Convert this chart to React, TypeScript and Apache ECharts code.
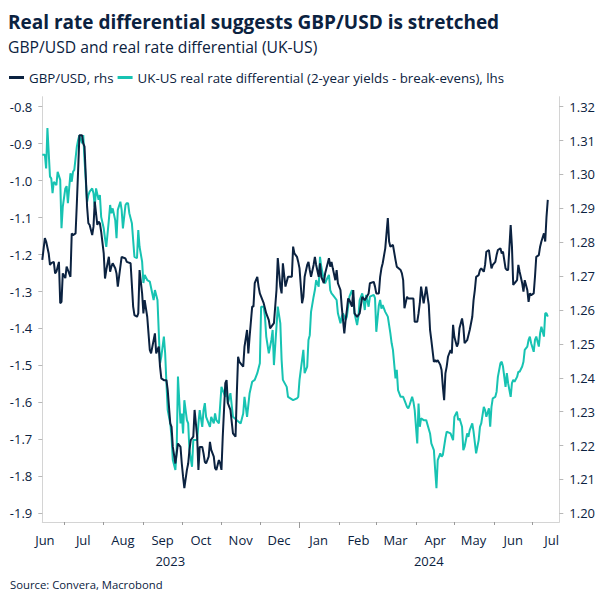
import React, { useEffect, useRef } from "react";
import * as echarts from "echarts";

const FONT = "'Open Sans', 'Noto Sans', sans-serif";
const NAVY = "#0b2240";
const TEAL = "#17c3b2";
const AXIS_GREY = "#d4d4d4";

const TITLE = "Real rate differential suggests GBP/USD is stretched";
const SUBTITLE = "GBP/USD and real rate differential (UK-US)";
const SOURCE = "Source: Convera, Macrobond";
const GBP_NAME = "GBP/USD, rhs";
const DIFF_NAME = "UK-US real rate differential (2-year yields - break-evens), lhs";

const AXIS_START = "2023-06-14";
const AXIS_END = "2024-07-22";
const MONTHS = ["Jan","Feb","Mar","Apr","May","Jun","Jul","Aug","Sep","Oct","Nov","Dec"];

const leftTicks = { min: -1.9, max: -0.8, interval: 0.1 };
const rightTicks = { min: 1.2, max: 1.32, interval: 0.01 };

// UK-US real rate differential (lhs)
const diffDates = [
"2023-06-14","2023-06-16","2023-06-17","2023-06-18","2023-06-20","2023-06-21","2023-06-22","2023-06-23","2023-06-25","2023-06-26","2023-06-28","2023-06-29","2023-06-30",
"2023-07-02","2023-07-03","2023-07-04","2023-07-06","2023-07-07","2023-07-08","2023-07-09","2023-07-11","2023-07-12","2023-07-13","2023-07-15","2023-07-16","2023-07-17","2023-07-19","2023-07-20","2023-07-21","2023-07-23","2023-07-24","2023-07-25","2023-07-26","2023-07-28","2023-07-29","2023-07-30",
"2023-08-01","2023-08-02","2023-08-03","2023-08-05","2023-08-06","2023-08-07","2023-08-08","2023-08-10","2023-08-11","2023-08-12","2023-08-14","2023-08-15","2023-08-16","2023-08-18","2023-08-19","2023-08-20","2023-08-21","2023-08-23","2023-08-24","2023-08-25","2023-08-27","2023-08-28","2023-08-29","2023-08-31",
"2023-09-01","2023-09-02","2023-09-04","2023-09-06","2023-09-09","2023-09-10","2023-09-12","2023-09-14","2023-09-15","2023-09-17","2023-09-18","2023-09-19","2023-09-20","2023-09-22","2023-09-23","2023-09-24","2023-09-26","2023-09-27","2023-09-28","2023-09-30",
"2023-10-01","2023-10-02","2023-10-03","2023-10-05","2023-10-06","2023-10-07","2023-10-09","2023-10-10","2023-10-13","2023-10-14","2023-10-15","2023-10-17","2023-10-18","2023-10-19","2023-10-20","2023-10-23","2023-10-24","2023-10-26","2023-10-27","2023-10-28","2023-10-30",
"2023-11-01","2023-11-04","2023-11-05","2023-11-06","2023-11-08","2023-11-10","2023-11-13","2023-11-16","2023-11-18","2023-11-19","2023-11-21","2023-11-23","2023-11-25","2023-11-27","2023-11-29",
"2023-12-01","2023-12-02","2023-12-04","2023-12-05","2023-12-06","2023-12-08","2023-12-10","2023-12-11","2023-12-12","2023-12-14","2023-12-15","2023-12-17","2023-12-18","2023-12-19","2023-12-22","2023-12-23","2023-12-27","2023-12-30","2023-12-31",
"2024-01-01","2024-01-03","2024-01-04","2024-01-05","2024-01-07","2024-01-08","2024-01-09","2024-01-10","2024-01-12","2024-01-13","2024-01-14","2024-01-16","2024-01-17","2024-01-18","2024-01-20","2024-01-21","2024-01-22","2024-01-24","2024-01-25","2024-01-26","2024-01-27","2024-01-30","2024-01-31",
"2024-02-02","2024-02-03","2024-02-04","2024-02-06","2024-02-07","2024-02-09","2024-02-11","2024-02-12","2024-02-13","2024-02-15","2024-02-16","2024-02-17","2024-02-19","2024-02-20","2024-02-21","2024-02-22","2024-02-24","2024-02-25","2024-02-28","2024-02-29",
"2024-03-01","2024-03-03","2024-03-04","2024-03-05","2024-03-06","2024-03-08","2024-03-10","2024-03-12","2024-03-13","2024-03-14","2024-03-16","2024-03-17","2024-03-18","2024-03-20","2024-03-22","2024-03-23","2024-03-25","2024-03-26","2024-03-27","2024-03-29","2024-03-30","2024-03-31",
"2024-04-02","2024-04-03","2024-04-04","2024-04-05","2024-04-07","2024-04-09","2024-04-12","2024-04-13","2024-04-15","2024-04-16","2024-04-17","2024-04-18","2024-04-20","2024-04-21","2024-04-22","2024-04-24","2024-04-25","2024-04-28","2024-04-30",
"2024-05-01","2024-05-03","2024-05-04","2024-05-05","2024-05-07","2024-05-08","2024-05-09","2024-05-11","2024-05-12","2024-05-13","2024-05-15","2024-05-16","2024-05-18","2024-05-20","2024-05-21","2024-05-22","2024-05-24","2024-05-25","2024-05-26","2024-05-28","2024-05-29","2024-05-30","2024-05-31",
"2024-06-02","2024-06-03","2024-06-04","2024-06-06","2024-06-07","2024-06-08","2024-06-10","2024-06-11","2024-06-12","2024-06-14","2024-06-15","2024-06-16","2024-06-17","2024-06-19","2024-06-20","2024-06-21","2024-06-23","2024-06-24","2024-06-25","2024-06-27","2024-06-28","2024-06-29","2024-06-30",
"2024-07-02","2024-07-03","2024-07-04","2024-07-06","2024-07-07","2024-07-08","2024-07-10","2024-07-11","2024-07-12","2024-07-13"
];
const diffValues = [
-0.93,-0.93,-0.967,-0.858,-0.989,-0.994,-1.034,-1.003,-1.012,-0.976,-0.998,-1.129,-1.071,
-1.021,-1.015,-1.061,-0.98,-1.003,-0.976,-0.971,-0.908,-0.89,-0.877,-0.899,-0.877,-0.944,-1.057,-1.039,-1.03,-1.021,-1.034,-1.071,-1.021,-1.052,-1.039,-1.098,
-1.129,-1.156,-1.179,-1.107,-1.066,-1.088,-1.075,-1.107,-1.156,-1.079,-1.057,-1.079,-1.129,-1.066,-1.061,-1.061,-1.088,-1.115,-1.161,-1.206,-1.21,-1.134,-1.179,-1.219,
-1.277,-1.255,-1.269,-1.273,-1.323,-1.296,-1.323,-1.494,-1.476,-1.422,-1.467,-1.548,-1.621,-1.657,-1.693,-1.756,-1.783,-1.729,-1.53,-1.657,
-1.63,-1.684,-1.594,-1.648,-1.657,-1.729,-1.774,-1.702,-1.702,-1.657,-1.621,-1.666,-1.621,-1.602,-1.639,-1.666,-1.639,-1.657,-1.63,-1.648,-1.657,
-1.558,-1.585,-1.558,-1.603,-1.575,-1.639,-1.648,-1.657,-1.63,-1.585,-1.639,-1.575,-1.544,-1.539,-1.521,
-1.494,-1.341,-1.341,-1.368,-1.422,-1.467,-1.431,-1.404,-1.499,-1.395,-1.341,-1.386,-1.485,-1.539,-1.558,-1.585,-1.594,-1.589,-1.585,
-1.539,-1.485,-1.458,-1.521,-1.503,-1.431,-1.418,-1.355,-1.314,-1.296,-1.269,-1.287,-1.206,-1.233,-1.269,-1.278,-1.269,-1.255,-1.296,-1.305,-1.309,-1.323,-1.359,
-1.386,-1.368,-1.359,-1.377,-1.368,-1.314,-1.296,-1.318,-1.359,-1.391,-1.368,-1.323,-1.305,-1.323,-1.35,-1.309,-1.341,-1.314,-1.309,-1.318,
-1.409,-1.337,-1.323,-1.346,-1.337,-1.355,-1.368,-1.413,-1.44,-1.458,-1.535,-1.512,-1.567,-1.585,-1.585,-1.594,-1.612,-1.616,-1.607,-1.585,-1.598,-1.621,
-1.711,-1.603,-1.666,-1.643,-1.648,-1.648,-1.684,-1.711,-1.729,-1.783,-1.832,-1.756,-1.738,-1.747,-1.742,-1.697,-1.679,-1.684,-1.702,
-1.639,-1.625,-1.648,-1.643,-1.666,-1.729,-1.72,-1.684,-1.693,-1.675,-1.657,-1.679,-1.738,-1.702,-1.666,-1.657,-1.612,-1.621,-1.639,-1.616,-1.666,-1.612,-1.589,
-1.585,-1.571,-1.531,-1.494,-1.49,-1.503,-1.558,-1.521,-1.548,-1.585,-1.548,-1.539,-1.544,-1.531,-1.517,-1.517,-1.503,-1.49,-1.458,-1.449,-1.431,-1.422,-1.44,
-1.463,-1.431,-1.422,-1.449,-1.413,-1.395,-1.422,-1.359,-1.359,-1.368
];

// GBP/USD (rhs)
const gbpDates = [
"2023-06-14","2023-06-16","2023-06-17","2023-06-19","2023-06-20","2023-06-21","2023-06-23","2023-06-24","2023-06-25","2023-06-27","2023-06-28","2023-06-29","2023-06-30",
"2023-07-02","2023-07-03","2023-07-04","2023-07-06","2023-07-07","2023-07-08","2023-07-10","2023-07-11","2023-07-12","2023-07-13","2023-07-15","2023-07-16","2023-07-17","2023-07-19","2023-07-20","2023-07-21","2023-07-23","2023-07-24","2023-07-25","2023-07-27","2023-07-28","2023-07-29","2023-07-30",
"2023-08-01","2023-08-02","2023-08-03","2023-08-05","2023-08-06","2023-08-07","2023-08-08","2023-08-10","2023-08-11","2023-08-12","2023-08-14","2023-08-15","2023-08-18","2023-08-19","2023-08-22","2023-08-24","2023-08-25","2023-08-27","2023-08-28","2023-08-29","2023-08-31",
"2023-09-01","2023-09-02","2023-09-04","2023-09-05","2023-09-06","2023-09-07","2023-09-10","2023-09-11","2023-09-13","2023-09-14","2023-09-15","2023-09-17","2023-09-19","2023-09-20","2023-09-22","2023-09-23","2023-09-24","2023-09-26","2023-09-27","2023-09-28","2023-09-30",
"2023-10-01","2023-10-02","2023-10-03","2023-10-05","2023-10-06","2023-10-07","2023-10-08","2023-10-10","2023-10-11","2023-10-13","2023-10-14","2023-10-15","2023-10-17","2023-10-18","2023-10-19","2023-10-20","2023-10-22","2023-10-23","2023-10-24","2023-10-26","2023-10-27","2023-10-28","2023-10-30","2023-10-31",
"2023-11-01","2023-11-02","2023-11-04","2023-11-05","2023-11-06","2023-11-08","2023-11-10","2023-11-12","2023-11-13","2023-11-14","2023-11-15","2023-11-18","2023-11-19","2023-11-21","2023-11-22","2023-11-23","2023-11-25","2023-11-26","2023-11-27","2023-11-29","2023-11-30",
"2023-12-01","2023-12-04","2023-12-06","2023-12-08","2023-12-09","2023-12-12","2023-12-13","2023-12-14","2023-12-15","2023-12-17","2023-12-18","2023-12-19","2023-12-21","2023-12-23","2023-12-26","2023-12-27","2023-12-28","2023-12-30","2023-12-31",
"2024-01-01","2024-01-03","2024-01-04","2024-01-05","2024-01-07","2024-01-08","2024-01-09","2024-01-10","2024-01-12","2024-01-13","2024-01-14","2024-01-16","2024-01-17","2024-01-18","2024-01-20","2024-01-21","2024-01-24","2024-01-25","2024-01-26","2024-01-27","2024-01-29","2024-01-30","2024-01-31",
"2024-02-02","2024-02-03","2024-02-04","2024-02-05","2024-02-06","2024-02-07","2024-02-08","2024-02-09","2024-02-11","2024-02-12","2024-02-13","2024-02-15","2024-02-17","2024-02-19","2024-02-21","2024-02-24","2024-02-25","2024-02-28","2024-02-29",
"2024-03-01","2024-03-03","2024-03-04","2024-03-05","2024-03-06","2024-03-08","2024-03-10","2024-03-11","2024-03-12","2024-03-14","2024-03-16","2024-03-17","2024-03-20","2024-03-21","2024-03-22","2024-03-23","2024-03-25","2024-03-26","2024-03-29","2024-03-30","2024-03-31",
"2024-04-02","2024-04-03","2024-04-04","2024-04-05","2024-04-07","2024-04-08","2024-04-09","2024-04-11","2024-04-12","2024-04-13","2024-04-15","2024-04-16","2024-04-17","2024-04-18","2024-04-20","2024-04-21","2024-04-22","2024-04-23","2024-04-24","2024-04-25","2024-04-26","2024-04-28","2024-04-29","2024-04-30",
"2024-05-01","2024-05-03","2024-05-04","2024-05-05","2024-05-07","2024-05-08","2024-05-09","2024-05-11","2024-05-13","2024-05-15","2024-05-16","2024-05-17","2024-05-18","2024-05-20","2024-05-21","2024-05-22","2024-05-24","2024-05-25","2024-05-26","2024-05-28","2024-05-29","2024-05-30","2024-05-31",
"2024-06-02","2024-06-03","2024-06-04","2024-06-06","2024-06-07","2024-06-08","2024-06-10","2024-06-11","2024-06-12","2024-06-14","2024-06-15","2024-06-16","2024-06-17","2024-06-19","2024-06-20","2024-06-21","2024-06-23","2024-06-24","2024-06-25","2024-06-27","2024-06-28","2024-06-29","2024-06-30",
"2024-07-02","2024-07-03","2024-07-04","2024-07-06","2024-07-07","2024-07-08","2024-07-10","2024-07-11","2024-07-12","2024-07-13"
];
const gbpValues = [
1.2748,1.2812,1.2802,1.2767,1.2733,1.2738,1.2742,1.2708,1.2713,1.2742,1.262,1.2624,1.2708,
1.2694,1.2728,1.2718,1.2698,1.2826,1.2821,1.2826,1.2915,1.3013,1.3116,1.3116,1.3092,1.3082,1.2905,1.2856,1.2851,1.2821,1.2846,1.292,1.2851,1.2861,1.2856,1.2831,
1.2767,1.2693,1.2718,1.2757,1.2713,1.2728,1.2738,1.2723,1.2708,1.2669,1.2728,1.2757,1.2752,1.2742,1.2738,1.261,1.2585,1.258,1.259,1.2718,1.2649,
1.259,1.2629,1.258,1.2531,1.2482,1.2472,1.2531,1.2472,1.2492,1.2433,1.2398,1.2393,1.2393,1.2364,1.2265,1.2255,1.2196,1.2147,1.2177,1.2206,1.2196,
1.2147,1.2108,1.2074,1.2128,1.2147,1.2187,1.2216,1.2226,1.2305,1.2226,1.2128,1.2196,1.2196,1.2177,1.2152,1.2147,1.2167,1.2211,1.2187,1.2167,1.2133,1.2128,1.2157,1.2147,
1.2128,1.2226,1.2384,1.2393,1.2325,1.2305,1.2236,1.2226,1.2354,1.2462,1.2447,1.2433,1.2492,1.2541,1.2472,1.2521,1.261,1.261,1.2679,1.2698,1.2669,
1.2649,1.262,1.259,1.257,1.2546,1.2561,1.261,1.2659,1.2753,1.2669,1.2649,1.2738,1.2669,1.2698,1.2698,1.2787,1.2767,1.2757,1.2742,
1.2723,1.262,1.2639,1.2698,1.2733,1.2742,1.2718,1.2698,1.2733,1.2757,1.2733,1.2698,1.2738,1.2698,1.2679,1.2708,1.2753,1.2728,1.2742,1.2723,1.2688,1.2718,1.2679,
1.2659,1.261,1.257,1.2531,1.257,1.26,1.2634,1.2629,1.261,1.2659,1.259,1.258,1.259,1.2639,1.2629,1.2649,1.2679,1.2683,1.2669,
1.2649,1.2649,1.2698,1.2723,1.2738,1.2782,1.2871,1.2802,1.2787,1.2792,1.2748,1.2728,1.2718,1.2708,1.2688,1.2605,1.2639,1.2634,1.2634,1.2634,1.2565,
1.2565,1.259,1.262,1.2669,1.262,1.2644,1.2669,1.2615,1.2541,1.2511,1.2447,1.2452,1.2447,1.2452,1.2438,1.2423,1.2374,1.2334,1.2413,1.2433,1.2462,1.2482,1.2472,1.2556,
1.2521,1.2492,1.2502,1.2546,1.2575,1.2551,1.2502,1.2511,1.2541,1.258,1.2629,1.2659,1.2698,1.2703,1.2718,1.2723,1.2713,1.2733,1.2772,1.2777,1.2748,1.2723,1.2733,
1.2742,1.2762,1.2777,1.2782,1.2767,1.2772,1.2723,1.2718,1.2718,1.2851,1.2787,1.2674,1.2679,1.2688,1.2733,1.2713,1.2679,1.2654,1.2688,1.2659,1.2624,1.2649,1.2644,
1.2649,1.2698,1.2757,1.2762,1.2787,1.2802,1.2826,1.2802,1.2875,1.2925
];

function buildDays(start: string, end: string): string[] {
  const out: string[] = [];
  const d = new Date(start + "T00:00:00Z");
  const e = new Date(end + "T00:00:00Z");
  while (d.getTime() <= e.getTime()) {
    out.push(d.toISOString().slice(0, 10));
    d.setUTCDate(d.getUTCDate() + 1);
  }
  return out;
}

export default function App() {
  const ref = useRef<HTMLDivElement>(null);
  useEffect(() => {
    if (!ref.current) return;
    const chart = echarts.init(ref.current, undefined, { renderer: "svg" });
    const days = buildDays(AXIS_START, AXIS_END);
    const idx: Record<string, number> = {};
    days.forEach((d, i) => (idx[d] = i));
    // centre of each calendar year's span for the year labels
    const yearMid: Record<number, boolean> = {};
    const years = Array.from(new Set(days.map((d) => d.slice(0, 4))));
    years.forEach((y) => {
      const first = days.findIndex((d) => d.startsWith(y));
      let last = -1;
      days.forEach((d, i) => { if (d.startsWith(y)) last = i; });
      const a = first === 0 ? 0 : first - 0.5;
      const b = last === days.length - 1 ? last : last + 0.5;
      yearMid[Math.round((a + b) / 2)] = true;
    });

    const gridMain = { left: 42.3, right: 44.7, top: 106.7, bottom: 90.7 };
    const gridFrame = { left: 42.3, right: 44.7, top: 96.7, bottom: 82 };
    const xOffset = 8.7;
    const labelStyle = { color: NAVY, fontSize: 13, fontFamily: FONT };

    const option: any = {
      animation: false,
      backgroundColor: "#ffffff",
      textStyle: { fontFamily: FONT },
      title: [
        { text: TITLE, left: 8, top: 12.5, padding: 0,
          textStyle: { fontSize: 19, fontWeight: "bold", color: NAVY, fontFamily: FONT } },
        { text: SUBTITLE, left: 8, top: 39, padding: 0,
          textStyle: { fontSize: 15.7, fontWeight: "normal", color: NAVY, fontFamily: FONT } },
        { text: SOURCE, left: 10, top: 579, padding: 0,
          textStyle: { fontSize: 11.3, fontWeight: "normal", color: NAVY, fontFamily: FONT } },
      ],
      legend: {
        left: 9, top: 71, padding: 0, itemGap: 4, itemWidth: 15, itemHeight: 3,
        icon: "rect",
        data: [GBP_NAME, DIFF_NAME],
        textStyle: { color: NAVY, fontSize: 13.3, fontFamily: FONT },
      },
      grid: [
        { ...gridMain, containLabel: false },
        { ...gridFrame, containLabel: false },
      ],
      xAxis: [
        {
          type: "category", gridIndex: 0, data: days, boundaryGap: false, position: "bottom", offset: xOffset,
          axisLine: { show: false, onZero: false },
          axisTick: { show: true, length: 3, lineStyle: { color: "#9a9a9a" },
            interval: (_i: number, v: string) => v.slice(8) === "01" && v.slice(5) !== "01-01" },
          axisLabel: { ...labelStyle, margin: 11.5,
            interval: (_i: number, v: string) => v.slice(8) === "16",
            formatter: (v: string) => MONTHS[parseInt(v.slice(5, 7), 10) - 1] },
          splitLine: { show: false },
        },
        {
          type: "category", gridIndex: 0, data: days, boundaryGap: false, position: "bottom", offset: xOffset,
          axisLine: { show: false, onZero: false },
          axisTick: { show: true, length: 6, lineStyle: { color: "#9a9a9a" },
            interval: (_i: number, v: string) => v.slice(5) === "01-01" },
          axisLabel: { ...labelStyle, margin: 32,
            interval: (i: number) => !!yearMid[i],
            formatter: (v: string) => v.slice(0, 4) },
          splitLine: { show: false },
        },
        {
          type: "value", gridIndex: 1, min: 0, max: 1, position: "bottom",
          axisLine: { show: true, onZero: false, lineStyle: { color: AXIS_GREY, width: 1 } },
          axisTick: { show: false }, axisLabel: { show: false }, splitLine: { show: false },
        },
      ],
      yAxis: [
        {
          type: "value", gridIndex: 0, position: "left", ...leftTicks,
          axisLine: { show: false, onZero: false },
          axisTick: { show: true, length: 4, lineStyle: { color: "#b8b8b8" } },
          axisLabel: { ...labelStyle, margin: 10, formatter: (v: number) => v.toFixed(1) },
          splitLine: { show: false },
        },
        {
          type: "value", gridIndex: 0, position: "right", ...rightTicks,
          axisLine: { show: false, onZero: false },
          axisTick: { show: true, length: 4, lineStyle: { color: "#b8b8b8" } },
          axisLabel: { ...labelStyle, margin: 10, formatter: (v: number) => v.toFixed(2) },
          splitLine: { show: false },
        },
        {
          type: "value", gridIndex: 1, position: "left", min: 0, max: 1,
          axisLine: { show: true, onZero: false, lineStyle: { color: AXIS_GREY, width: 1 } },
          axisTick: { show: false }, axisLabel: { show: false }, splitLine: { show: false },
        },
        {
          type: "value", gridIndex: 1, position: "right", min: 0, max: 1,
          axisLine: { show: true, onZero: false, lineStyle: { color: AXIS_GREY, width: 1 } },
          axisTick: { show: false }, axisLabel: { show: false }, splitLine: { show: false },
        },
      ],
      series: [
        {
          name: GBP_NAME, type: "line", xAxisIndex: 0, yAxisIndex: 1,
          data: gbpDates.map((d, i) => [idx[d], gbpValues[i]]),
          showSymbol: false, symbol: "none", color: NAVY,
          lineStyle: { width: 2, color: NAVY }, z: 3,
        },
        {
          name: DIFF_NAME, type: "line", xAxisIndex: 0, yAxisIndex: 0,
          data: diffDates.map((d, i) => [idx[d], diffValues[i]]),
          showSymbol: false, symbol: "none", color: TEAL,
          lineStyle: { width: 2, color: TEAL }, z: 2,
        },
      ],
    };
    chart.setOption(option);
    return () => chart.dispose();
  }, []);
  return <div ref={ref} style={{ width: 604, height: 604, position: "absolute", left: 0, top: 0 }} />;
}
